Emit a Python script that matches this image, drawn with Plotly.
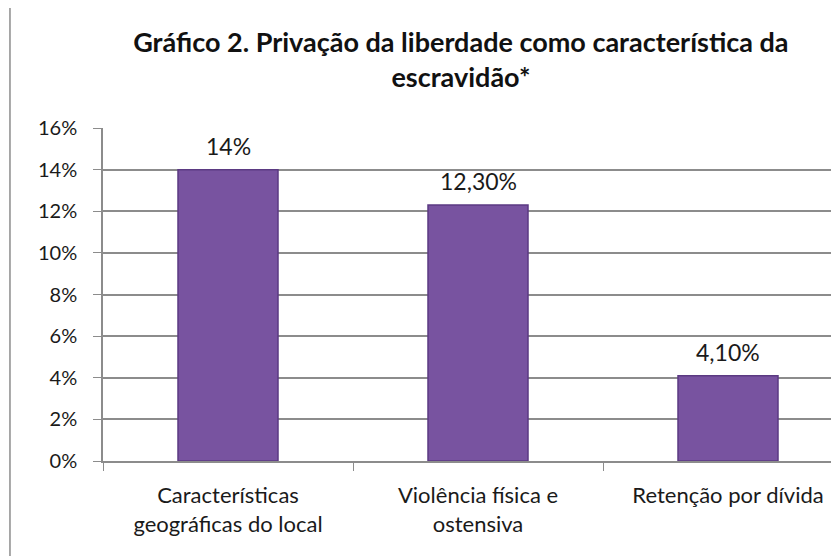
import plotly.graph_objects as go

categories = ["Características<br>geográficas do local", "Violência física e<br>ostensiva", "Retenção por dívida"]
values = [0.14, 0.123, 0.041]
value_labels = ["14%", "12,30%", "4,10%"]
y_ticks = [0, 0.02, 0.04, 0.06, 0.08, 0.10, 0.12, 0.14, 0.16]
y_tick_labels = ["0%", "2%", "4%", "6%", "8%", "10%", "12%", "14%", "16%"]

FONT = "Lato, Open Sans, sans-serif"

fig = go.Figure()
fig.add_trace(go.Bar(
    x=categories, y=values,
    marker=dict(color="#7853a0", line=dict(color="#5b3a82", width=1.5)),
    width=0.4,
))
for c, v, t in zip(categories, values, value_labels):
    fig.add_annotation(x=c, y=v, text=t, showarrow=False, yanchor="bottom", yshift=8,
                       font=dict(size=23, color="#1a1a1a", family=FONT))
fig.update_layout(
    width=831, height=548,
    margin=dict(l=95, r=0, t=120, b=95, autoexpand=False),
    paper_bgcolor="white", plot_bgcolor="white",
    showlegend=False,
    title=dict(text="<b>Gráfico 2. Privação da liberdade como característica da<br>escravidão*</b>",
               x=0.545, xanchor="center", y=0.92, yanchor="top",
               font=dict(size=27, color="#111111", family=FONT)),
    xaxis=dict(range=[-0.5, 2.444], showline=True, linecolor="#8c8c8c", linewidth=1.5,
               ticks="outside", tickson="boundaries", ticklen=8, tickcolor="#8c8c8c",
               ticklabelstandoff=14,
               tickfont=dict(size=22, color="#1a1a1a", family=FONT), showgrid=False,
               automargin=False),
    yaxis=dict(range=[0, 0.16], tickvals=y_ticks, ticktext=y_tick_labels,
               showline=True, linecolor="#8c8c8c", linewidth=1.5,
               ticks="outside", ticklen=8, tickcolor="#8c8c8c",
               ticklabelstandoff=12,
               gridcolor="#8c8c8c", gridwidth=1.5,
               tickfont=dict(size=20, color="#1a1a1a", family=FONT), zeroline=False,
               automargin=False),
    bargap=0.6,
)
fig.add_shape(type="line", xref="paper", yref="paper", x0=-0.1264, x1=-0.1264, y0=-0.3, y1=1.4,
              line=dict(color="#8c8c8c", width=1.5))
fig.write_html("out.html")
